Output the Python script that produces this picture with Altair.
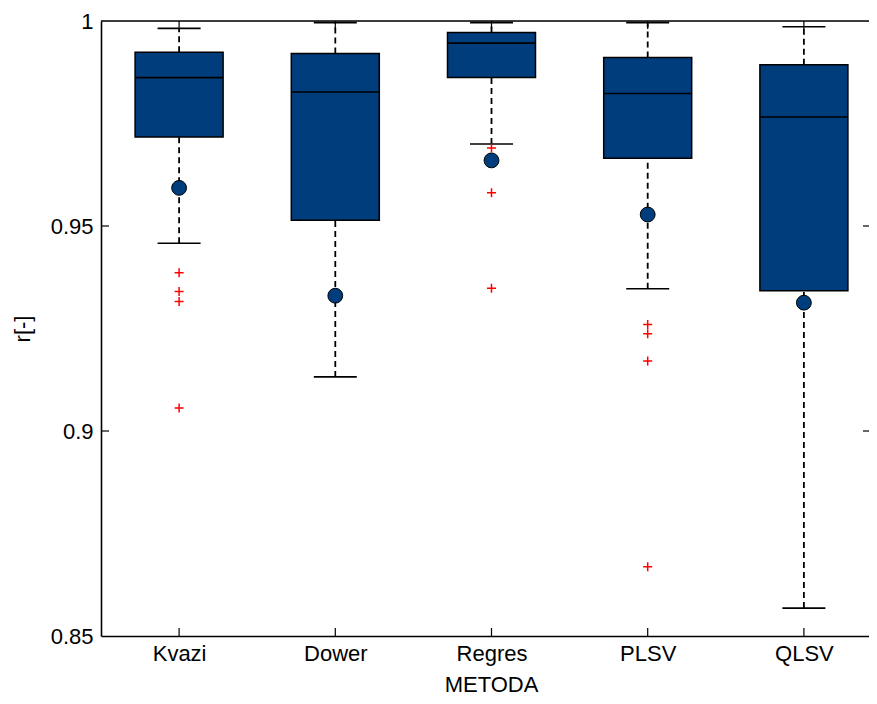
import altair as alt
import pandas as pd

# ---- data ----
methods = ["Kvazi", "Dower", "Regres", "PLSV", "QLSV"]
whisker_low = [0.9458, 0.9132, 0.9700, 0.9347, 0.8568]
q1 = [0.9717, 0.9514, 0.9862, 0.9665, 0.9342]
median = [0.9862, 0.9827, 0.9946, 0.9823, 0.9766]
q3 = [0.9924, 0.9921, 0.9972, 0.9911, 0.9893]
whisker_high = [0.9982, 0.9996, 0.9996, 0.9996, 0.9986]
means = [0.9593, 0.9330, 0.9660, 0.9528, 0.9313]

outlier_method = ["Kvazi", "Kvazi", "Kvazi", "Kvazi",
                  "Regres", "Regres", "Regres",
                  "PLSV", "PLSV", "PLSV", "PLSV"]
outlier_value = [0.9386, 0.9340, 0.9316, 0.9056,
                 0.9690, 0.9581, 0.9348,
                 0.9260, 0.9237, 0.9171, 0.8669]

y_ticks = [0.85, 0.9, 0.95, 1.0]
inner_ticks = [0.9, 0.95]

idx = list(range(len(methods)))
summary = pd.DataFrame({
    "i": idx, "method": methods, "lo": whisker_low, "q1": q1, "med": median,
    "q3": q3, "hi": whisker_high, "mean": means,
})
outliers = pd.DataFrame({
    "i": [methods.index(m) for m in outlier_method],
    "value": outlier_value,
})
ticks_df = pd.DataFrame({"v": inner_ticks})
one_row = pd.DataFrame({"a": [0]})

W, H = 768, 615
BLUE = "#003D7C"
FONT = "Liberation Sans"

# the reference frame runs past the right edge of the picture: the last
# category band is only partly shown
x_scale = alt.Scale(domain=[-0.5, 4.4168], nice=False, zero=False, padding=0)
y_scale = alt.Scale(domain=[0.85, 1.0], nice=False, zero=False, padding=0)

label_expr = "[" + ",".join("'%s'" % m for m in methods) + "][datum.value]"

x_axis = alt.Axis(
    title="METODA", values=idx, labelExpr=label_expr,
    labelFontSize=22, labelFont=FONT, labelColor="black", labelFlush=False,
    labelAngle=0, labelPadding=7, ticks=False, tickSize=0, domain=True,
    domainColor="black", domainWidth=1.6, grid=False,
    titleFontSize=22, titleFont=FONT, titleFontWeight="normal", titleColor="black",
    titleX=390, titleY=55, titleBaseline="alphabetic", titleAlign="center",
)
y_axis = alt.Axis(
    title="r[-]", values=y_ticks, format="~g", labelFontSize=22, labelFont=FONT,
    labelColor="black", labelPadding=8, ticks=False, tickSize=0, domain=True,
    domainColor="black", domainWidth=1.6, grid=False, labelFlush=False,
    titleFontSize=22, titleFont=FONT, titleFontWeight="normal", titleColor="black",
    titleX=-79, titleY=307.5, titleAngle=270, titleAlign="center", titleBaseline="middle",
)

X = alt.X("i:Q", scale=x_scale, axis=x_axis)


def Y(field):
    return alt.Y(field, type="quantitative", scale=y_scale, axis=y_axis)


base = alt.Chart(summary)

whisk_low = base.mark_rule(color="black", strokeWidth=1.8, strokeDash=[6, 4]).encode(
    x=X, y=Y("lo"), y2="q1")
whisk_high = base.mark_rule(color="black", strokeWidth=1.8, strokeDash=[6, 4]).encode(
    x=X, y=Y("q3"), y2="hi")
boxes = base.mark_bar(size=88, fill=BLUE, stroke="black", strokeWidth=1.5).encode(
    x=X, y=Y("q1"), y2="q3")
med = base.mark_tick(orient="horizontal", size=88, thickness=1.6, color="black",
                     opacity=1).encode(x=X, y=Y("med"))
cap_lo = base.mark_tick(orient="horizontal", size=43, thickness=1.6, color="black",
                        opacity=1).encode(x=X, y=Y("lo"))
cap_hi = base.mark_tick(orient="horizontal", size=43, thickness=1.6, color="black",
                        opacity=1).encode(x=X, y=Y("hi"))
mean_pts = base.mark_point(shape="circle", filled=True, size=220, fill=BLUE,
                           stroke="black", strokeWidth=1, opacity=1).encode(
    x=X, y=Y("mean"))
out_pts = alt.Chart(outliers).mark_point(
    shape="M-1,0H1M0,-1V1", size=81, stroke="#FF0000", strokeWidth=1.5,
    filled=False, fill="transparent", opacity=1).encode(x=X, y=Y("value"))

# frame: top line and inward ticks
top_line = alt.Chart(one_row).mark_rule(color="black", strokeWidth=1.6).encode(
    x=alt.value(0), x2=alt.value(W), y=alt.value(0))
bottom_ticks = base.mark_rule(color="black", strokeWidth=1.2).encode(
    x=X, y=alt.value(H), y2=alt.value(H - 8))
top_ticks = base.mark_rule(color="black", strokeWidth=1.2).encode(
    x=X, y=alt.value(0), y2=alt.value(8))
left_ticks = alt.Chart(ticks_df).mark_rule(color="black", strokeWidth=1.2).encode(
    y=Y("v"), x=alt.value(0), x2=alt.value(8))
right_ticks = alt.Chart(ticks_df).mark_rule(color="black", strokeWidth=1.2).encode(
    y=Y("v"), x=alt.value(W - 6), x2=alt.value(W))

chart = alt.layer(
    whisk_low, whisk_high, boxes, med, cap_lo, cap_hi,
    top_line, bottom_ticks, top_ticks, left_ticks, right_ticks,
    mean_pts, out_pts,
).properties(
    width=W, height=H,
    autosize=alt.AutoSizeParams(type="none"),
    padding={"left": 93, "top": 13, "right": 0, "bottom": 60},
).configure_view(strokeWidth=0).configure(background="white")

chart.save("out.html", embed_options={"renderer": "svg", "actions": False})
